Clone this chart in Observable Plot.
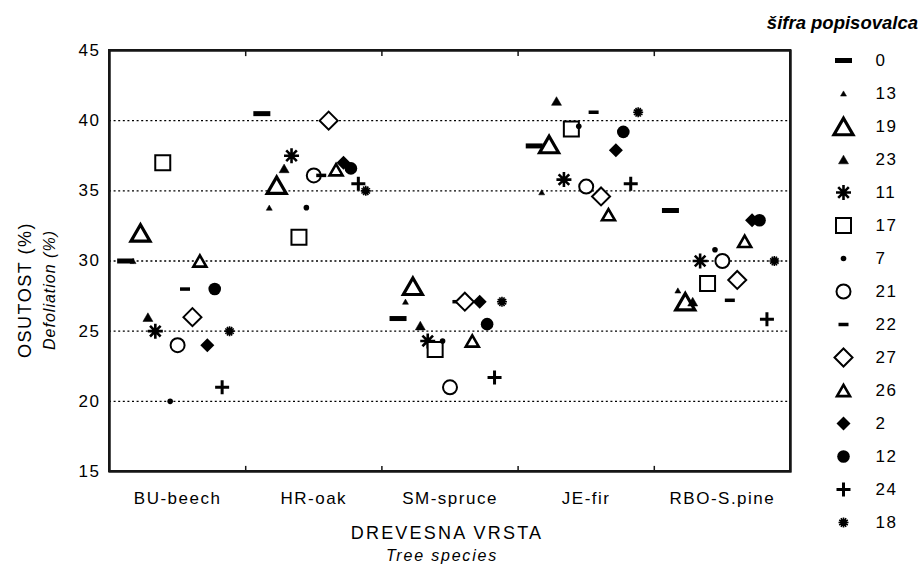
<!DOCTYPE html>
<html>
<head>
<meta charset="utf-8">
<script src="https://cdn.jsdelivr.net/npm/d3@7"></script>
<script src="https://cdn.jsdelivr.net/npm/@observablehq/plot@0.6"></script>
<style>
  html, body { margin: 0; padding: 0; background: white; }
  #wrap { position: relative; width: 924px; height: 572px; overflow: hidden; }
  #wrap > * { position: absolute; }
  .lbl { font-family: 'Liberation Sans', Arial, sans-serif; fill: black; }
</style>
</head>
<body>
<div id="wrap"></div>
<script>
// ---- data ----
const species = ["BU-beech", "HR-oak", "SM-spruce", "JE-fir", "RBO-S.pine"];
const observers = ["0", "13", "19", "23", "11", "17", "7", "21", "22", "27", "26", "2", "12", "24", "18"];
const beech  = [30, 30, 32, 26, 25, 37, 20, 24, 28, 26, 30, 24, 28, 21, 25];
const oak    = [40.5, 33.8, 35.4, 36.6, 37.5, 31.7, 33.8, 36.1, 36.1, 40, 36.5, 37, 36.6, 35.5, 35];
const spruce = [25.9, 27.1, 28.2, 25.4, 24.3, 23.7, 24.3, 21, 27.1, 27.1, 24.3, 27.1, 25.5, 21.7, 27.1];
const fir    = [38.2, 34.9, 38.3, 41.4, 35.8, 39.4, 39.6, 35.3, 40.6, 34.6, 33.3, 37.9, 39.2, 35.5, 40.6];
const pine   = [33.6, 27.9, 27.1, 27.1, 30, 28.4, 30.8, 30, 27.2, 28.65, 31.4, 32.9, 32.9, 25.85, 30];
const yTicks = [15, 20, 25, 30, 35, 40, 45];
const gridValues = [20, 25, 30, 35, 40];

const seriesBySpecies = [beech, oak, spruce, fir, pine];
const jitter = 0.0545; // horizontal spread of observers within a species band
const table = [];
seriesBySpecies.forEach((vals, si) => {
  vals.forEach((v, oi) => table.push({species: species[si], si, observer: observers[oi], oi, value: v}));
});

// ---- symbol shapes ----
const rectSym = (w, h) => ({draw(c) { c.moveTo(-w/2, -h/2); c.lineTo(w/2, -h/2); c.lineTo(w/2, h/2); c.lineTo(-w/2, h/2); c.closePath(); }});
const triSym = (s) => { const h = s * Math.sqrt(3) / 2; return {draw(c) { c.moveTo(0, -h/2); c.lineTo(s/2, h/2); c.lineTo(-s/2, h/2); c.closePath(); }}; };
const sqSym = (s) => rectSym(s, s);
const circSym = (r) => ({draw(c) { c.moveTo(r, 0); c.arc(0, 0, r, 0, 2 * Math.PI); c.closePath(); }});
const diaSym = (r) => ({draw(c) { c.moveTo(0, -r); c.lineTo(r, 0); c.lineTo(0, r); c.lineTo(-r, 0); c.closePath(); }});
const plusSym = (a) => ({draw(c) { c.moveTo(-a, 0); c.lineTo(a, 0); c.moveTo(0, -a); c.lineTo(0, a); }});
const starSym = (a, n, core) => ({draw(c) {
  for (let k = 0; k < n; k++) {
    const t = Math.PI * k / n + Math.PI / 2;
    const dx = Math.cos(t) * a, dy = Math.sin(t) * a;
    c.moveTo(-dx, -dy); c.lineTo(dx, dy);
  }
  if (core) { c.moveTo(core, 0); c.arc(0, 0, core, 0, 2 * Math.PI); c.closePath(); }
}});

const K = "black", W0 = "white", FRAME = "#161616";
const styles = {
  "0":  {symbol: rectSym(17, 5),   fill: K,  stroke: "none", strokeWidth: 0},
  "13": {symbol: triSym(6),        fill: K,  stroke: K, strokeWidth: 0.5},
  "19": {symbol: triSym(19),       fill: W0, stroke: K, strokeWidth: 3.2},
  "23": {symbol: triSym(10),       fill: K,  stroke: K, strokeWidth: 0.5},
  "11": {symbol: starSym(7.5, 4),  fill: "none", stroke: K, strokeWidth: 2.6},
  "17": {symbol: sqSym(15),        fill: W0, stroke: K, strokeWidth: 2},
  "7":  {symbol: circSym(2.8),     fill: K,  stroke: "none", strokeWidth: 0},
  "21": {symbol: circSym(7),       fill: W0, stroke: K, strokeWidth: 2},
  "22": {symbol: rectSym(10, 3.5), fill: K,  stroke: "none", strokeWidth: 0},
  "27": {symbol: diaSym(9),        fill: W0, stroke: K, strokeWidth: 2},
  "26": {symbol: triSym(13),       fill: W0, stroke: K, strokeWidth: 2.6},
  "2":  {symbol: diaSym(7),        fill: K,  stroke: "none", strokeWidth: 0},
  "12": {symbol: circSym(6.3),     fill: K,  stroke: "none", strokeWidth: 0},
  "24": {symbol: plusSym(7),       fill: "none", stroke: K, strokeWidth: 3},
  "18": {symbol: starSym(5, 6, 2.6), fill: K, stroke: K, strokeWidth: 1.6}
};

const font = "'Liberation Sans', Arial, Helvetica, sans-serif";

// ---- main chart ----
const dotMarks = observers.map(o => Plot.dot(table.filter(d => d.observer === o), {
  x: d => d.si + (d.oi - 7) * jitter,
  y: "value",
  r: 5,
  ...styles[o]
}));

const yMin = yTicks[0], yMax = yTicks[yTicks.length - 1];
const xMin = -0.5, xMax = species.length - 0.5;
const boundaryTicks = species.slice(1).flatMap((d, i) => [
  {x: i + 0.5, y1: yMin, y2: yMin + 0.4},
  {x: i + 0.5, y1: yMax, y2: yMax - 0.4}
]);
// frame edges as thin filled strips (zero-extent rects widened by negative insets)
const frameEdges = [
  {x1: xMin, x2: xMin, y1: yMin, y2: yMax},
  {x1: xMax, x2: xMax, y1: yMin, y2: yMax},
  {x1: xMin, x2: xMax, y1: yMin, y2: yMin},
  {x1: xMin, x2: xMax, y1: yMax, y2: yMax}
];

const frameGeometry = {
  width: 924, height: 572,
  marginLeft: 109, marginRight: 134, marginTop: 50, marginBottom: 101,
  x: {domain: [xMin, xMax], axis: null},
  y: {domain: [yMin, yMax], axis: null}
};

const chart = Plot.plot({
  ...frameGeometry,
  style: {fontFamily: font, fontSize: "17px", letterSpacing: "1.5px", color: "black"},
  marks: [
    Plot.ruleY(gridValues, {stroke: K, strokeWidth: 1.3, strokeDasharray: "2,2.6"}),
    Plot.frame({stroke: FRAME, strokeWidth: 2}),
    Plot.axisY({ticks: yTicks, tickSize: 0, tickPadding: 9, tickFormat: d => String(d), fontSize: 17, label: null}),
    Plot.axisX({ticks: species.map((d, i) => i), tickFormat: i => species[i], tickSize: 0, tickPadding: 20, fontSize: 17, label: null}),
    ...dotMarks
  ]
});
chart.style.left = "0px";
chart.style.top = "0px";

// frame + category boundary ticks, same scales, drawn on top
const frameLayer = Plot.plot({
  ...frameGeometry,
  style: {background: "none"},
  marks: [
    Plot.link(boundaryTicks, {x1: "x", x2: "x", y1: "y1", y2: "y2", stroke: FRAME, strokeWidth: 1.5}),
    Plot.rect(frameEdges, {x1: "x1", x2: "x2", y1: "y1", y2: "y2", fill: FRAME,
      insetLeft: -1, insetRight: -1, insetTop: -1, insetBottom: -1}),
    Plot.frame({stroke: FRAME, strokeWidth: 2})
  ]
});
frameLayer.style.left = "0px";
frameLayer.style.top = "0px";

// ---- legend (vertical) ----
const legendDots = observers.map(o => Plot.dot([o], {x: () => "sym", y: d => d, r: 5, ...styles[o]}));
const legend = Plot.plot({
  width: 134,
  height: 542,
  marginLeft: 53,
  marginRight: 49,
  marginTop: 27,
  marginBottom: 47,
  style: {fontFamily: font, fontSize: "17px", letterSpacing: "1.5px", color: "black", background: "none"},
  x: {type: "point", domain: ["sym", "lab"], padding: 0, axis: null},
  y: {type: "point", domain: observers, padding: 0, axis: null},
  marks: [
    ...legendDots,
    Plot.text(observers, {x: () => "lab", y: d => d, text: d => d, textAnchor: "start", fontSize: 17, fill: K})
  ]
});
legend.style.left = "790px";
legend.style.top = "30px";

// ---- titles ----
const svgNS = "http://www.w3.org/2000/svg";
const titles = document.createElementNS(svgNS, "svg");
titles.setAttribute("width", 924);
titles.setAttribute("height", 572);
titles.style.left = "0px"; titles.style.top = "0px"; titles.style.pointerEvents = "none";
function addText(str, attrs) {
  const t = document.createElementNS(svgNS, "text");
  t.setAttribute("class", "lbl");
  for (const k in attrs) t.setAttribute(k, attrs[k]);
  t.textContent = str;
  titles.appendChild(t);
}
addText("OSUTOST (%)", {x: 0, y: 0, "text-anchor": "middle", "font-size": 18, "letter-spacing": "1.5", transform: "translate(31,290) rotate(-90)"});
addText("Defoliation (%)", {x: 0, y: 0, "text-anchor": "middle", "font-size": 16, "font-style": "italic", "letter-spacing": "1", transform: "translate(55,290) rotate(-90)"});
addText("DREVESNA VRSTA", {x: 447, y: 539, "text-anchor": "middle", "font-size": 18, "letter-spacing": "2.2"});
addText("Tree species", {x: 442, y: 561, "text-anchor": "middle", "font-size": 16, "font-style": "italic", "letter-spacing": "1.8"});
addText("šifra popisovalca", {x: 918, y: 29, "text-anchor": "end", "font-size": 18.5, "font-style": "italic", "font-weight": "bold"});

const wrap = document.getElementById("wrap");
wrap.appendChild(chart);
wrap.appendChild(legend);
wrap.appendChild(titles);
wrap.appendChild(frameLayer);
</script>
</body>
</html>
